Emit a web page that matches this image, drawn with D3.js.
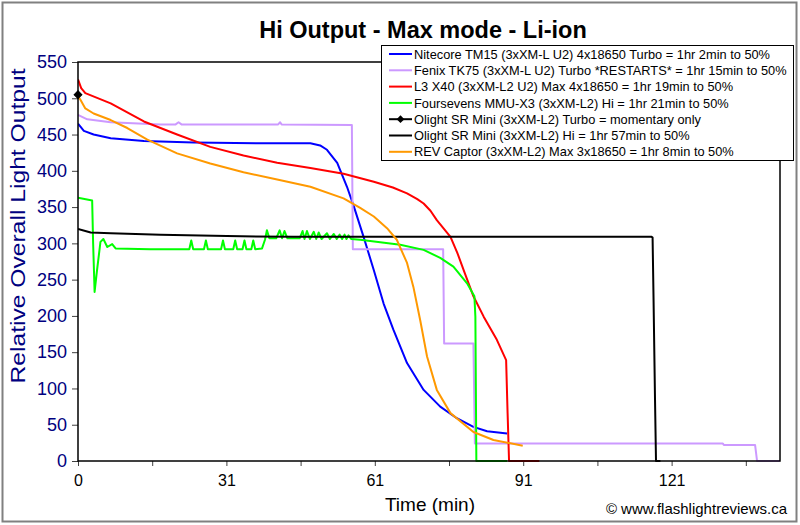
<!DOCTYPE html>
<html>
<head>
<meta charset="utf-8">
<script src="https://cdn.jsdelivr.net/npm/d3@7"></script>
<style>
  html, body { margin: 0; padding: 0; background: #ffffff; }
  svg { display: block; font-family: "Liberation Sans", Arial, sans-serif; }
</style>
</head>
<body>
<svg id="chart" width="800" height="525"></svg>
<script>
// ---------------- DATA ----------------
const chartTitle = "Hi Output - Max mode - Li-ion";
const yAxisTitle = "Relative Overall Light Output";
const xAxisTitle = "Time (min)";
const credit = "\u00A9 www.flashlightreviews.ca";

const xTickValues = [0, 30.4, 60.8, 91.2, 121.6];
const xTickLabels = ["0", "31", "61", "91", "121"];
const xMinorStep = 15.2;
const yTickValues = [0, 50, 100, 150, 200, 250, 300, 350, 400, 450, 500, 550];

const seriesNames = [
  "Nitecore TM15 (3xXM-L U2) 4x18650 Turbo = 1hr 2min to 50%",
  "Fenix TK75 (3xXM-L U2) Turbo *RESTARTS* = 1hr 15min to 50%",
  "L3 X40 (3xXM-L2 U2) Max 4x18650 = 1hr 19min to 50%",
  "Foursevens MMU-X3 (3xXM-L2) Hi = 1hr 21min to 50%",
  "Olight SR Mini (3xXM-L2) Turbo = momentary only",
  "Olight SR Mini (3xXM-L2) Hi = 1hr 57min to 50%",
  "REV Captor (3xXM-L2) Max 3x18650 = 1hr 8min to 50%"
];
const seriesColors = ["#0000FF", "#CC99FF", "#FF0000", "#00FF00", "#000000", "#000000", "#FF9900"];

// [time (min), relative output]
const nitecore = [[0,465],[1.2,455],[3.2,450],[6.7,445],[13.5,441],[23.7,439],[37.4,438],[47.6,438],[49.6,435],[51.0,429],[53.1,411],[55.1,378],[56.5,351],[58.5,309],[60.6,263],[62.6,217],[64.6,181],[67.4,135],[70.8,98],[74.2,75],[77.6,59],[81.0,47],[83.8,41],[87.9,38]];
const fenix = [[0,477],[1.9,471],[6.7,467],[16.9,464],[20.0,464],[20.6,467],[21.2,464],[41.0,464],[41.4,467],[41.7,464],[56.1,463],[56.3,292],[74.8,292],[75.0,162],[81.0,162],[81.3,24],[132.1,24],[132.3,22],[138.7,22],[139.1,0],[143.8,0]];
const l3x40 = [[0,526],[0.65,514],[1.5,507],[6.7,493],[13.5,468],[20.3,450],[27.1,433],[33.9,421],[40.8,411],[47.6,404],[54.4,396],[60.6,385],[64.5,377],[67.4,369],[69.5,361],[70.8,355],[72.2,345],[73.5,332],[76.3,309],[77.7,287],[79.0,263],[81.0,227],[83.1,199],[85.8,167],[87.7,139],[88.0,66],[88.3,0],[94.5,0]];
const foursevens = [[0,363],[2.9,359],[3.1,300],[3.4,233],[3.9,263],[4.6,302],[5.2,306],[6.0,295],[7.0,299],[7.7,293],[14.8,292],[22.8,292],[23.2,304],[23.6,292],[25.8,292],[26.2,304],[26.6,292],[29.3,292],[29.7,304],[30.1,292],[31.8,292],[32.2,304],[32.6,292],[33.7,292],[34.1,304],[34.5,292],[35.5,292],[35.9,304],[36.3,292],[37.7,293],[38.3,305],[38.7,318],[39.2,307],[40.6,307],[41.3,318],[41.8,307],[42.3,317],[42.9,307],[45.4,307],[46.0,317],[46.4,306],[46.9,317],[47.5,306],[48.3,316],[48.8,306],[49.3,315],[49.9,306],[51.0,314],[51.6,306],[52.4,313],[53.0,306],[53.6,312],[54.1,306],[54.6,312],[55.0,306],[55.4,311],[56.0,306],[57.8,305],[66.0,298],[70.8,291],[74.2,280],[76.9,268],[79.7,245],[81.2,227],[81.4,199],[81.6,0],[87.9,0]];
const olightTurbo = [[0,505]];
const olightHi = [[0,320],[2.6,315],[6.7,314],[16.9,312],[30.5,310],[44.2,309],[117.5,309],[117.7,308],[117.9,222],[118.2,84],[118.4,0],[119.3,0]];
const revCaptor = [[0,503],[0.5,498],[1.5,486],[3.2,479],[6.7,470],[10.1,459],[14.2,443],[20.3,424],[27.1,410],[33.9,398],[40.8,388],[47.6,378],[54.4,362],[57.8,349],[60.6,337],[63.3,321],[65.3,305],[67.4,273],[68.7,240],[70.1,194],[71.5,144],[73.5,98],[76.3,66],[81.0,40],[85.1,29],[91.1,21]];

const seriesData = [nitecore, fenix, l3x40, foursevens, olightTurbo, olightHi, revCaptor];

// ---------------- LAYOUT ----------------
const svg = d3.select("#chart");
const plot = { left: 78, top: 62, right: 780, bottom: 461 };
const xMax = 143.8, yMax = 550;

const x = d3.scaleLinear().domain([0, xMax]).range([plot.left, plot.right]);
const y = d3.scaleLinear().domain([0, yMax]).range([plot.bottom, plot.top]);

// chart background + border
svg.append("rect").attr("x", 0).attr("y", 0).attr("width", 800).attr("height", 525).attr("fill", "#ffffff");
svg.append("rect").attr("x", 2.5).attr("y", 2.5).attr("width", 794).attr("height", 519)
  .attr("fill", "none").attr("stroke", "#808080").attr("stroke-width", 2);

// title
svg.append("text").attr("x", 423).attr("y", 38).attr("text-anchor", "middle")
  .attr("font-size", 23.5).attr("font-weight", "bold").attr("fill", "#000").text(chartTitle);

// y axis
const yAxis = d3.axisLeft(y).tickValues(yTickValues).tickSize(6).tickPadding(5).tickFormat(d3.format("d"));
const gy = svg.append("g").attr("transform", `translate(${plot.left},0)`).call(yAxis);
gy.select(".domain").remove();
gy.selectAll(".tick line").attr("stroke", "#404040");
gy.selectAll(".tick text").attr("font-size", 18).attr("fill", "#000080")
  .attr("font-family", "'Liberation Sans', Arial, sans-serif");

// x axis: minor+major ticks, labels at major
const allXTicks = d3.range(0, xMax + 0.001, xMinorStep);
const xAxisTicks = d3.axisBottom(x).tickValues(allXTicks).tickSize(5).tickFormat("");
const gx = svg.append("g").attr("transform", `translate(0,${plot.bottom})`).call(xAxisTicks);
gx.select(".domain").remove();
gx.selectAll(".tick line").attr("stroke", "#404040");
const xLabelAxis = d3.axisBottom(x).tickValues(xTickValues).tickSize(0).tickPadding(14)
  .tickFormat((d, i) => xTickLabels[i]);
const gxl = svg.append("g").attr("transform", `translate(0,${plot.bottom})`).call(xLabelAxis);
gxl.select(".domain").remove();
gxl.selectAll(".tick text").attr("font-size", 16).attr("fill", "#000")
  .attr("font-family", "'Liberation Sans', Arial, sans-serif");

// axis titles
svg.append("text").attr("transform", "translate(25,226) rotate(-90)").attr("text-anchor", "middle")
  .attr("font-size", 20).attr("fill", "#000080").attr("textLength", 315).attr("lengthAdjust", "spacingAndGlyphs")
  .text(yAxisTitle);
svg.append("text").attr("x", 430).attr("y", 511).attr("text-anchor", "middle")
  .attr("font-size", 19).attr("fill", "#000").text(xAxisTitle);
svg.append("text").attr("x", 787).attr("y", 514).attr("text-anchor", "end")
  .attr("font-size", 15).attr("fill", "#000").text(credit);

// series
svg.append("clipPath").attr("id", "plotclip").append("rect")
  .attr("x", plot.left).attr("y", plot.top - 4).attr("width", plot.right - plot.left).attr("height", plot.bottom - plot.top + 5);
const line = d3.line().x(d => x(d[0])).y(d => y(d[1])).curve(d3.curveLinear);
const gs = svg.append("g").attr("clip-path", "url(#plotclip)");
seriesData.forEach((data, i) => {
  if (data.length > 1) {
    gs.append("path").datum(data).attr("d", line).attr("fill", "none")
      .attr("stroke", seriesColors[i]).attr("stroke-width", 2).attr("stroke-linejoin", "round");
  }
});

// plot area border
svg.append("rect").attr("x", plot.left).attr("y", plot.top).attr("width", plot.right - plot.left)
  .attr("height", plot.bottom - plot.top).attr("fill", "none").attr("stroke", "#000").attr("stroke-width", 1.5);

// marker for Olight Turbo
const diamond = d3.symbol().type(d3.symbolSquare).size(30);
svg.append("g").selectAll("path.mk").data(olightTurbo).join("path")
  .attr("transform", d => `translate(${x(d[0])},${y(d[1])}) rotate(45)`)
  .attr("d", diamond).attr("fill", "#000").attr("stroke", "#000");

// legend
const lg = svg.append("g");
lg.append("rect").attr("x", 381.5).attr("y", 45.5).attr("width", 412).attr("height", 115)
  .attr("fill", "#fff").attr("stroke", "#000").attr("stroke-width", 1);
seriesNames.forEach((name, i) => {
  const yy = 54 + i * 16.3;
  lg.append("line").attr("x1", 389).attr("x2", 412).attr("y1", yy).attr("y2", yy)
    .attr("stroke", seriesColors[i]).attr("stroke-width", 2);
  if (i === 4) {
    lg.append("path").attr("transform", `translate(400.5,${yy}) rotate(45)`).attr("d", diamond).attr("fill", "#000");
  }
  lg.append("text").attr("x", 414).attr("y", yy + 4.6).attr("font-size", 12.8).attr("fill", "#000").text(name);
});
</script>
</body>
</html>
